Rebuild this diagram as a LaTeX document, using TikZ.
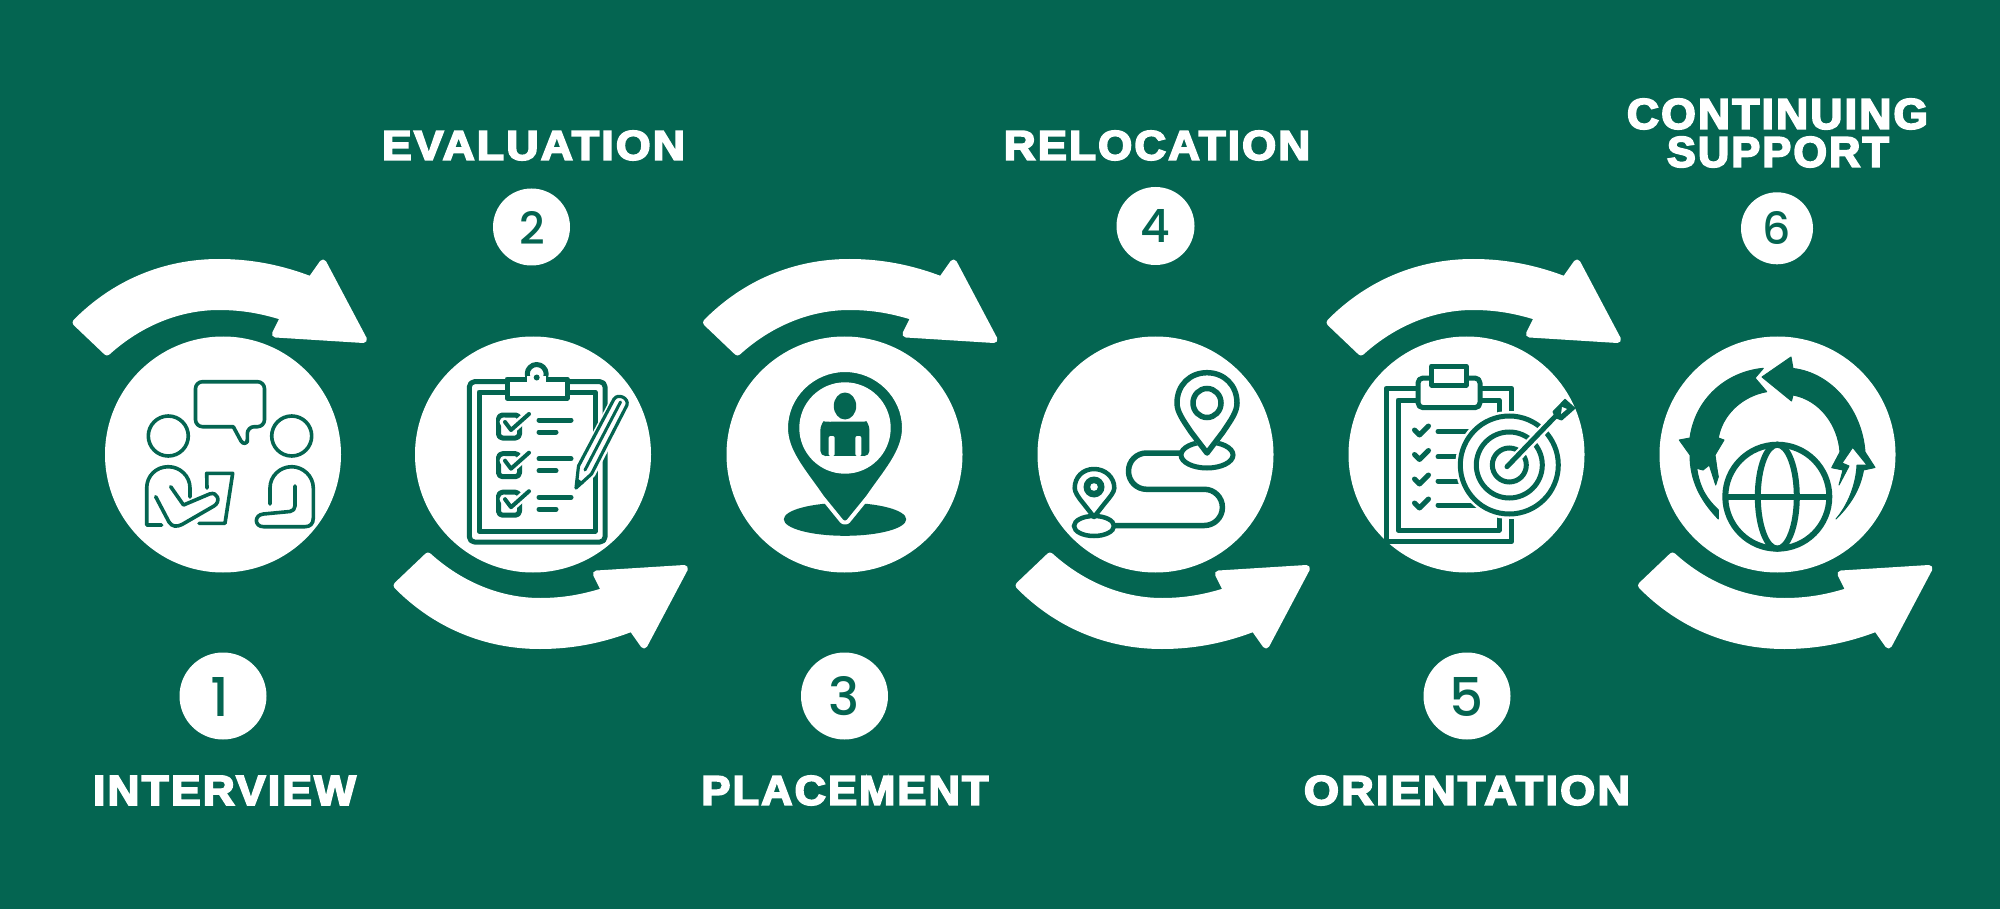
\documentclass[tikz,border=0pt]{standalone}
\usepackage{graphicx}
\usepackage{fontspec}
\newfontfamily\labfont[FakeBold=4.2,LetterSpace=5]{Liberation Sans Bold}
\newfontfamily\digfont{Poppins Medium}
\definecolor{bg}{HTML}{046551}
\tikzset{
 disc/.style={circle,fill=white,inner sep=0pt,minimum size=236pt},
 numdisc/.style={circle,fill=white,inner sep=0pt},
 lab/.style={inner sep=0pt,text=white,font=\labfont},
 dig/.style={inner sep=0pt,text=bg,font=\digfont},
 bigarrow/.style={fill=white,draw=white,line width=7pt,line join=round},
 ic/.style={draw=bg,line width=5pt,line cap=round,line join=round},
 icthin/.style={draw=bg,line width=3.6pt,line cap=round,line join=round},
 solid fill/.style={fill=bg,draw=bg,line width=1pt,line join=round},
}
\newcommand{\swoosh}{%
 \path[bigarrow] (76,322.5) .. controls (115,283) and (165,262.5) .. (219,262.5)
   .. controls (250,262.5) and (280,268) .. (311,280)
   -- (323,263) -- (363.5,339.5) -- (275.5,334) -- (284,317)
   .. controls (262,310) and (242,306.5) .. (219,306.5)
   .. controls (180,306.5) and (140,322) .. (107,352) -- cycle;}
\newcommand{\chk}[2]{%
 \draw[white,line width=9pt,line cap=round,line join=round] (#1-1,#2) -- (#1+6,#2+8) -- (#1+24,#2-8);
 \draw[bg,line width=4pt,line cap=round,line join=round] (#1,#2) -- (#1+6,#2+8) -- (#1+24,#2-8);}
\begin{document}
\begin{tikzpicture}[x=1pt,y=-1pt]
\useasboundingbox (0,0) rectangle (2000,909);
\fill[bg] (0,0) rectangle (2000,909);

% swooshes
\begin{scope}[shift={(0,0)}]\swoosh\end{scope}
\begin{scope}[shift={(630.5,0)}]\swoosh\end{scope}
\begin{scope}[shift={(1254,0)}]\swoosh\end{scope}
\begin{scope}[shift={(321,908)},yscale=-1]\swoosh\end{scope}
\begin{scope}[shift={(943,908)},yscale=-1]\swoosh\end{scope}
\begin{scope}[shift={(1565.5,908)},yscale=-1]\swoosh\end{scope}

% big discs
\node[disc] (c1) at (223,454.5) {};
\node[disc] (c2) at (533,454.5) {};
\node[disc] (c3) at (844.5,454.5) {};
\node[disc] (c4) at (1155.5,454.5) {};
\node[disc] (c5) at (1466.5,454.5) {};
\node[disc] (c6) at (1777.5,454.5) {};

% number discs
\node[numdisc,minimum size=87pt] (n1) at (223,696) {};
\node[numdisc,minimum size=77pt] (n2) at (531.5,227) {};
\node[numdisc,minimum size=87pt] (n3) at (844.5,696) {};
\node[numdisc,minimum size=78pt] (n4) at (1155.5,226) {};
\node[numdisc,minimum size=87pt] (n5) at (1467,696) {};
\node[numdisc,minimum size=72pt] (n6) at (1777,228.3) {};
\node[dig] (d1) at (220,696.5) {\resizebox{!}{39pt}{1}};
\node[dig] (d2) at (532,228) {\resizebox{!}{33pt}{2}};
\node[dig] (d3) at (844.5,696.5) {\resizebox{!}{39pt}{3}};
\node[dig] (d4) at (1155.5,226) {\resizebox{!}{33pt}{4}};
\node[dig] (d5) at (1467,696.5) {\resizebox{!}{39pt}{5}};
\node[dig] (d6) at (1777,228) {\resizebox{!}{33pt}{6}};

% labels
\node[lab] (t1) at (224.5,790.5) {\resizebox{263pt}{29pt}{INTERVIEW}};
\node[lab] (t2) at (533.5,145.5) {\resizebox{303pt}{29pt}{EVALUATION}};
\node[lab] (t3) at (845,790.5) {\resizebox{287pt}{29pt}{PLACEMENT}};
\node[lab] (t4) at (1157,145.5) {\resizebox{306pt}{29pt}{RELOCATION}};
\node[lab] (t5) at (1467,790.5) {\resizebox{326pt}{29pt}{ORIENTATION}};
\node[lab] (t6a) at (1777.5,114) {\resizebox{301pt}{30pt}{CONTINUING}};
\node[lab] (t6b) at (1778,152) {\resizebox{222pt}{30pt}{SUPPORT}};

%% ICON 1
\draw[icthin,rounded corners=7pt] (233.3,426.7) -- (195.5,426.7) -- (195.5,381.7) -- (264.5,381.7) -- (264.5,426.7) -- (247.3,426.7) -- (247.3,442) ;
\draw[icthin] (233.3,426.7) -- (241,441) .. controls (243,444.5) and (247.3,444) .. (247.3,440);
\draw[icthin] (168.3,436) circle (20pt);
\draw[icthin] (291.7,436) circle (20pt);
\draw[icthin] (161.7,525) -- (146.7,525) -- (146.7,488) .. controls (146.7,476) and (156,466.7) .. (168.3,466.7) .. controls (180,466.7) and (190,476) .. (190,488) -- (190,497);
\draw[icthin] (207,488) -- (206.7,473.3) -- (232.7,473.3) -- (225,523.3) -- (199,523.3);
\path[fill=white] (157,497) -- (172,525) -- (182,525) -- (217,505) -- (218,495) -- (211,491) -- (184,503) -- (172,487) -- cycle;
\draw[icthin] (155.7,496.7) -- (169,522) .. controls (172,527) and (177,527) .. (182,524.5) -- (214,506) .. controls (221,502) and (218,491) .. (209.5,494) -- (183.5,505) -- (170.7,486.7);
\draw[icthin] (270,504) -- (270,488) .. controls (270,476) and (280,466.7) .. (291.7,466.7) .. controls (303,466.7) and (313.3,476) .. (313.3,488) -- (313.3,518) .. controls (313.3,524) and (310,526.7) .. (305,526.7) -- (263.5,526.7) .. controls (254,526.7) and (254,514.7) .. (263.5,514) -- (290,511.5) .. controls (293,511) and (295,509) .. (295,506) -- (295,486);

%% ICON 2
\draw[ic,rounded corners=5pt] (469.4,381.7) rectangle (605,542);
\draw[ic] (479,392) rectangle (595,531);
\fill[white,draw=bg,line width=5pt,line join=round] (536.7,374) circle (9.5pt);
\draw[white,fill=white,draw=bg,line width=5pt,line join=round] (507,384) -- (507,398) -- (567,398) -- (567,379) -- (528,379) -- (507,379) -- cycle;
\fill[white] (527,376) rectangle (546,382);
\fill[bg] (536.7,377.5) circle (3pt);
\foreach \yy in {0,38.7,77.2}{
 \draw[ic,rounded corners=4pt] (498.5,415+\yy) rectangle (519.5,438+\yy);
 \chk{505}{422+\yy}
 \draw[ic] (539,420+\yy) -- (571,420+\yy);
 \draw[ic] (539,432+\yy) -- (556,432+\yy);
}
% pencil
\path[fill=white,draw=white,line width=7pt,line join=round] (576,488) -- (579,466) -- (616,396) -- (628,405) -- (592,474) -- cycle;
\draw[icthin,line width=3.2pt] (576,488) -- (578.5,466) -- (614,399) .. controls (618,393) and (629,398) .. (627,405) -- (591.5,474) -- cycle;
\draw[icthin,line width=3pt] (585,470) -- (620.5,402);
\fill[bg] (575,489) -- (576.5,478) -- (584,483) -- cycle;

%% ICON 3
\fill[bg] (845,519.3) ellipse [x radius=61.2pt,y radius=16.5pt];
\path[fill=bg,draw=white,line width=4pt,line join=round] (841.5,521) -- (822,497) .. controls (805,472) and (786,452) .. (786,428) .. controls (786,396) and (813,370) .. (845,370) .. controls (877,370) and (904,396) .. (904,428) .. controls (904,452) and (885,472) .. (868,497) -- (848.5,521) .. controls (847,523) and (843,523) .. (841.5,521) -- cycle;
\fill[white] (845,428) circle (45.7pt);
\fill[bg] (845,406) ellipse [x radius=11.2pt,y radius=13.5pt];
\fill[bg,rounded corners=5pt] (820.4,456) -- (820.4,425) .. controls (823,422) and (835,421.7) .. (845,421.7) .. controls (855,421.7) and (867,422) .. (869.4,425) -- (869.4,456) -- cycle;
\fill[white,rounded corners=2pt] (828.6,456) -- (828.6,436) -- (834.7,436) -- (834.7,456) -- cycle;
\fill[white,rounded corners=2pt] (855.3,456) -- (855.3,436) -- (861.4,436) -- (861.4,456) -- cycle;
\fill[white] (826,455.7) rectangle (864,460);

%% ICON 4
\draw[bg,line width=5.5pt,rounded corners=18pt] (1180,453) -- (1128.5,453) -- (1128.5,489.3) -- (1222.4,489.3) -- (1222.4,525.5) -- (1113,525.5);
\draw[bg,line width=5pt,fill=white] (1207,455) ellipse [x radius=26pt,y radius=13pt];
\path[fill=white,draw=white,line width=5.5pt,line join=round] (1207,452) -- (1191,432) .. controls (1183,420) and (1177,412) .. (1177,403) .. controls (1177,385) and (1190,372.7) .. (1207,372.7) .. controls (1224,372.7) and (1237,385) .. (1237,403) .. controls (1237,412) and (1231,420) .. (1223,432) -- cycle;
\draw[ic,line width=5.5pt] (1207,453) -- (1191,432) .. controls (1183,420) and (1177,412) .. (1177,403) .. controls (1177,385) and (1190,372.7) .. (1207,372.7) .. controls (1224,372.7) and (1237,385) .. (1237,403) .. controls (1237,412) and (1231,420) .. (1223,432) -- cycle;
\draw[bg,line width=5.5pt] (1207,403) ellipse [x radius=14pt,y radius=14.5pt];
\draw[bg,line width=4.5pt,fill=white] (1094,526) ellipse [x radius=20pt,y radius=10pt];
\path[fill=white,draw=white,line width=3pt,line join=round] (1094,517) -- (1083,503) .. controls (1078,497) and (1074.7,492) .. (1074.7,488) .. controls (1074.7,477) and (1083,469) .. (1094,469) .. controls (1105,469) and (1114.3,477) .. (1114.3,488) .. controls (1114.3,492) and (1110,497) .. (1105,503) -- cycle;
\draw[ic,line width=4.5pt] (1094,517) -- (1083,503) .. controls (1078,497) and (1074.7,492) .. (1074.7,488) .. controls (1074.7,477) and (1083,469) .. (1094,469) .. controls (1105,469) and (1114.3,477) .. (1114.3,488) .. controls (1114.3,492) and (1110,497) .. (1105,503) -- cycle;
\fill[bg] (1094,487) circle (10.5pt);
\fill[white] (1094,487) circle (3.8pt);

%% ICON 5
\draw[ic] (1386,388.3) rectangle (1511.7,541.7);
\draw[ic] (1398,400) rectangle (1499,530);
\draw[ic,fill=white,rounded corners=5pt] (1418,407.7) -- (1418,378) -- (1480,378) -- (1480,407.7) -- cycle;
\draw[ic,fill=white] (1431.7,366) rectangle (1466,385);
\foreach \yy in {430,454.5,479,503}{
 \draw[bg,line width=5pt,line cap=round,line join=round] (1414.5,\yy) -- (1419.5,\yy+5) -- (1428.5,\yy-4);
}
\draw[ic] (1438,431.5) -- (1475,431.5);
\draw[ic] (1438,456.7) -- (1470,456.7);
\draw[ic] (1438,481) -- (1470,481);
\draw[ic] (1438,505) -- (1480,505);
\fill[white] (1509.3,465) circle (54pt);
\draw[bg,line width=5pt] (1509.3,465) circle (49pt);
\draw[bg,line width=5pt] (1509.3,465) circle (33pt);
\draw[bg,line width=5pt] (1509.3,465) circle (17pt);
\draw[white,line width=10pt] (1513,461) -- (1556,416);
\draw[ic] (1507,466.7) -- (1556.7,415);
\path[solid fill] (1553,411.7) -- (1565,399.3) -- (1575,408.3) -- (1561.7,420) -- (1556,418) -- cycle;
\fill[white] (1562,407) -- (1567,409) -- (1561,414) -- cycle;

%% ICON 6
\path[solid fill] (1762,377) -- (1791,357) -- (1793,368.5)
  .. controls (1832,373) and (1862,410) .. (1865,452)
  -- (1875,467.5) -- (1863.5,470)
  .. controls (1860,490) and (1850,505) .. (1836,519)
  .. controls (1848,505) and (1856,485) .. (1857,465)
  -- (1867,465) -- (1852.7,447.3) -- (1842,463) -- (1849,466) -- (1839,485) -- (1843,470) -- (1831.7,467.7) -- (1840,452)
  .. controls (1838,425) and (1820,400) .. (1793,395)
  -- (1791.5,401) -- cycle;
\path[solid fill] (1763.3,368.3) -- (1755,378) -- (1766.7,391.7)
  .. controls (1742,396) and (1722,415) .. (1718.3,438)
  -- (1724,440) -- (1715,455) .. controls (1716,462) and (1717,470) .. (1718.3,476.7)
  -- (1715.7,485) -- (1709.3,465) -- (1703,470) -- (1696.7,468.3)
  .. controls (1700,490) and (1708,500) .. (1718.3,510) -- (1718.3,519)
  .. controls (1700,500) and (1690,480) .. (1690,455)
  -- (1679.3,440) -- (1690,438)
  .. controls (1695,400) and (1725,372) .. (1763.3,368.3) -- cycle;
\fill[white] (1777.3,496.7) circle (58pt);
\draw[bg,line width=6pt] (1777.3,496.7) circle (52pt);
\draw[bg,line width=6pt] (1777.3,496.7) ellipse [x radius=19.5pt,y radius=52pt];
\draw[bg,line width=6pt] (1725.3,496.7) -- (1829.3,496.7);
\end{tikzpicture}
\end{document}
